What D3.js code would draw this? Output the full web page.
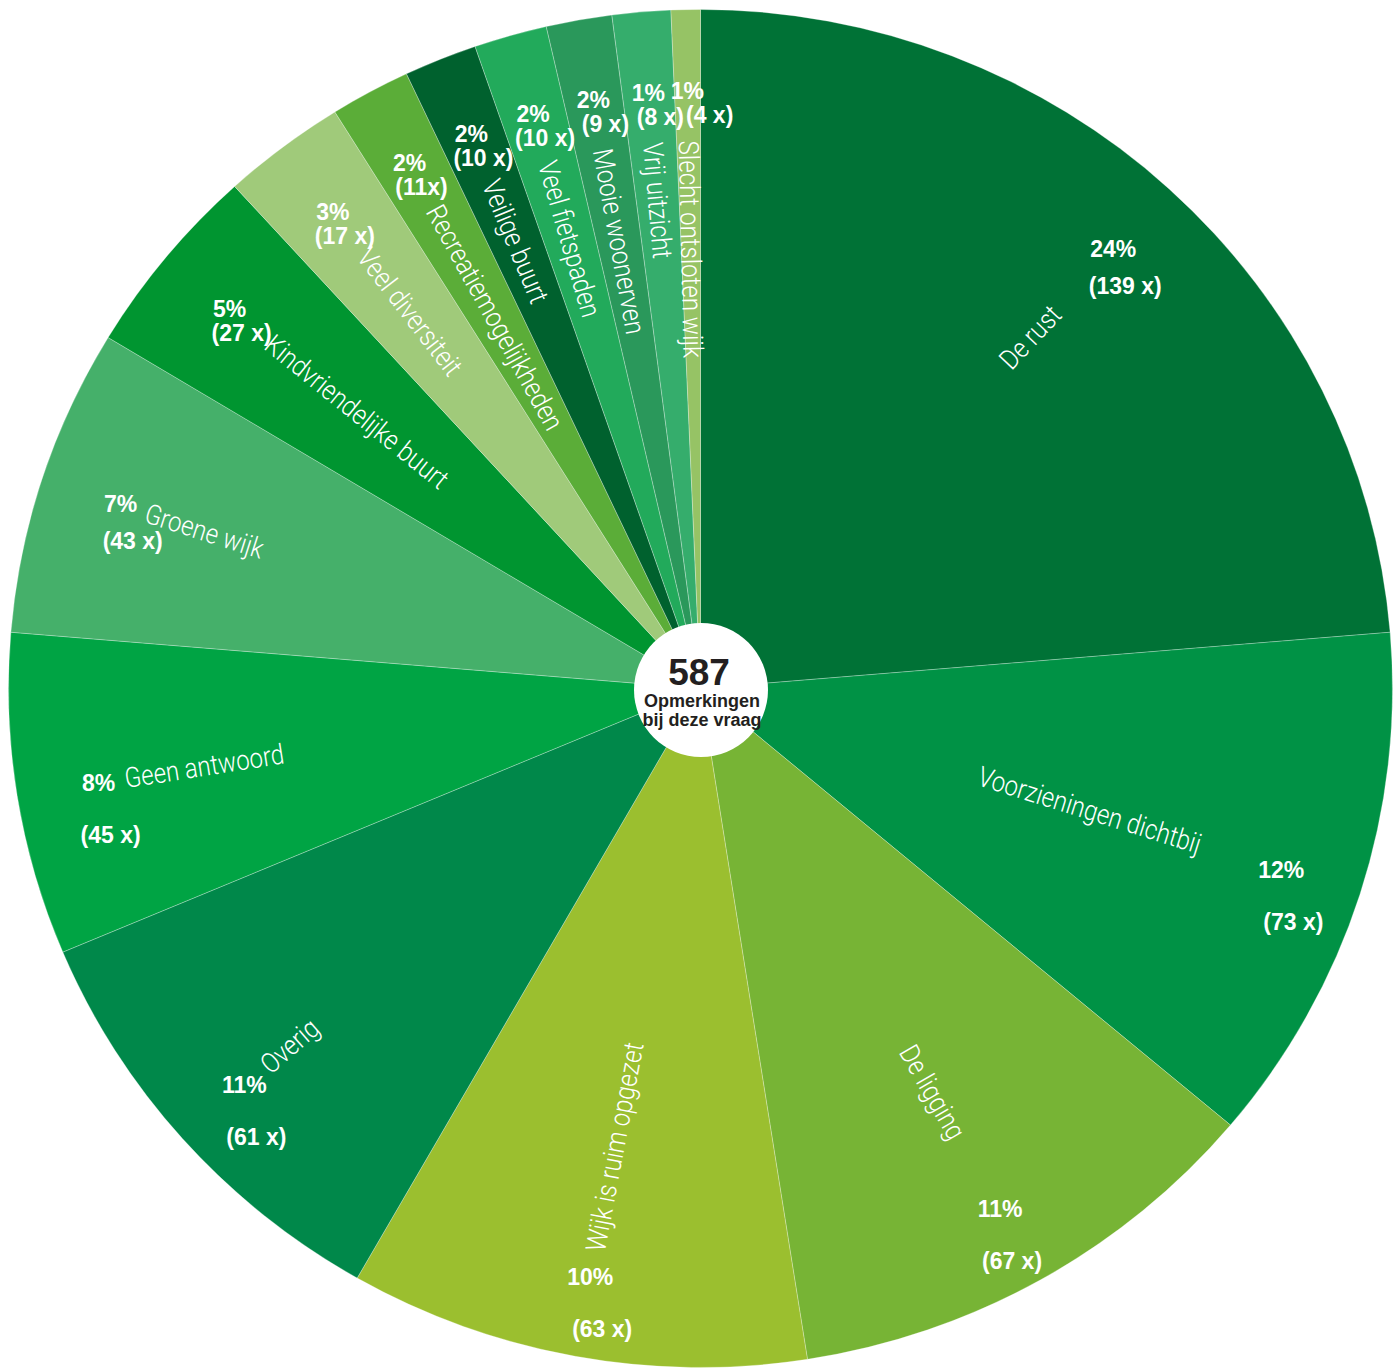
<!DOCTYPE html>
<html><head><meta charset="utf-8">
<script src="https://cdn.jsdelivr.net/npm/d3@7"></script>
<style>html,body{margin:0;padding:0;background:#fff;} svg{display:block}</style>
</head><body>
<svg id="chart" width="1399" height="1369"></svg>
<script>
// ---- data ----
const categories = ["De rust","Voorzieningen dichtbij","De ligging","Wijk is ruim opgezet","Overig","Geen antwoord","Groene wijk","Kindvriendelijke buurt","Veel diversiteit","Recreatiemogelijkheden","Veilige buurt","Veel fietspaden","Mooie woonerven","Vrij uitzicht","Slecht ontsloten wijk"];
const values = [139,73,67,63,61,45,43,27,17,11,10,10,9,8,4];
const percentLabels = ["24%","12%","11%","10%","11%","8%","7%","5%","3%","2%","2%","2%","2%","1%","1%"];
const countLabels = ["(139 x)","(73 x)","(67 x)","(63 x)","(61 x)","(45 x)","(43 x)","(27 x)","(17 x)","(11x)","(10 x)","(10 x)","(9 x)","(8 x)","(4 x)"];
const colors = ["#007236","#009245","#77b435","#9bbf2f","#00884a","#00a444","#45b06a","#009530","#a0ca7a","#5bad38","#00612e","#22aa5b","#2a985b","#35ad6c","#96c365"];
const totalLabel = "587";
const centerLines = ["Opmerkingen","bij deze vraag"];

// ---- layout ----
const cx = 700.5, cy = 688.5, R = 679, sx = 692/679;
const svg = d3.select("#chart");
const data = categories.map((c,i)=>({name:c, value:values[i], pct:percentLabels[i], cnt:countLabels[i], color:colors[i]}));
const pie = d3.pie().sort(null).value(d=>d.value);
const arcs = pie(data);
const arc = d3.arc().innerRadius(0).outerRadius(R);

const g = svg.append("g").attr("transform",`translate(${cx},${cy}) scale(${sx},1)`);
g.selectAll("path").data(arcs).join("path")
  .attr("d",arc)
  .attr("fill",d=>d.data.color)
  .attr("stroke","rgba(255,255,255,0.35)")
  .attr("stroke-width",0.8)
  .attr("vector-effect","non-scaling-stroke");

function pos(a, r){ return [cx + sx*r*Math.sin(a), cy - r*Math.cos(a)]; }
function screenDeg(a){ return Math.atan2(-Math.cos(a), sx*Math.sin(a))*180/Math.PI; }

const labels = svg.append("g");
// category names, rotated along the radius
arcs.forEach(d=>{
  const mid = (d.startAngle+d.endAngle)/2;
  const deg = mid*180/Math.PI;
  const right = deg < 180;
  const r = right ? 515 : (d.data.value >= 40 ? 572 : 548);
  const [x,y] = pos(mid, r);
  let rot = screenDeg(mid);
  if(!right) rot += 180;
  labels.append("text")
    .attr("transform",`translate(${x},${y}) rotate(${rot}) scale(0.86,1)`)
    .attr("text-anchor", right ? "end" : "start")
    .attr("dy","0.35em")
    .attr("fill","#fff")
    .style("font-family","Roboto, 'Helvetica Neue', Arial, sans-serif")
    .style("font-weight","300")
    .style("font-size","28px")
    .text(d.data.name);
});
// percentages and counts
const boldFont = "'Liberation Sans', Arial, Helvetica, sans-serif";
let prevBox = null;
arcs.forEach((d,i)=>{
  const mid = (d.startAngle+d.endAngle)/2;
  const v = d.data.value;
  const gap = (v>=45 && v<100) ? 52 : (v>=40 ? 37 : 24);
  const [x,y] = pos(mid, 598);
  labels.append("text").attr("x",x).attr("y",y).attr("dy","0.35em")
    .attr("text-anchor","middle").attr("fill","#fff")
    .style("font-family",boldFont)
    .style("font-weight","700").style("font-size","23px")
    .text(d.data.pct);
  const ct = labels.append("text").attr("x",x+12).attr("y",y+gap).attr("dy","0.35em")
    .attr("text-anchor","middle").attr("fill","#fff")
    .style("font-family",boldFont)
    .style("font-weight","700").style("font-size","23px")
    .text(d.data.cnt);
  // push a count to the right if it collides with the previous one
  let b = ct.node().getBBox();
  if(prevBox && b.x < prevBox.x + prevBox.width && b.x + b.width > prevBox.x &&
     b.y < prevBox.y + prevBox.height && b.y + b.height > prevBox.y){
    const shift = prevBox.x + prevBox.width + 2 - b.x;
    ct.attr("x", x + 12 + shift);
    b = ct.node().getBBox();
  }
  prevBox = b;
});

// center
const c = svg.append("g");
c.append("circle").attr("cx",701).attr("cy",690).attr("r",67).attr("fill","#fff");
c.append("text").attr("x",699).attr("y",685).attr("text-anchor","middle")
  .attr("fill","#231f20")
  .style("font-family",boldFont)
  .style("font-weight","700").style("font-size","37px").text(totalLabel);
centerLines.forEach((t,i)=>{
  c.append("text").attr("x",702).attr("y",707+i*19).attr("text-anchor","middle")
    .attr("fill","#231f20")
    .style("font-family",boldFont)
    .style("font-weight","700").style("font-size","18px").text(t);
});
</script>
</body></html>
